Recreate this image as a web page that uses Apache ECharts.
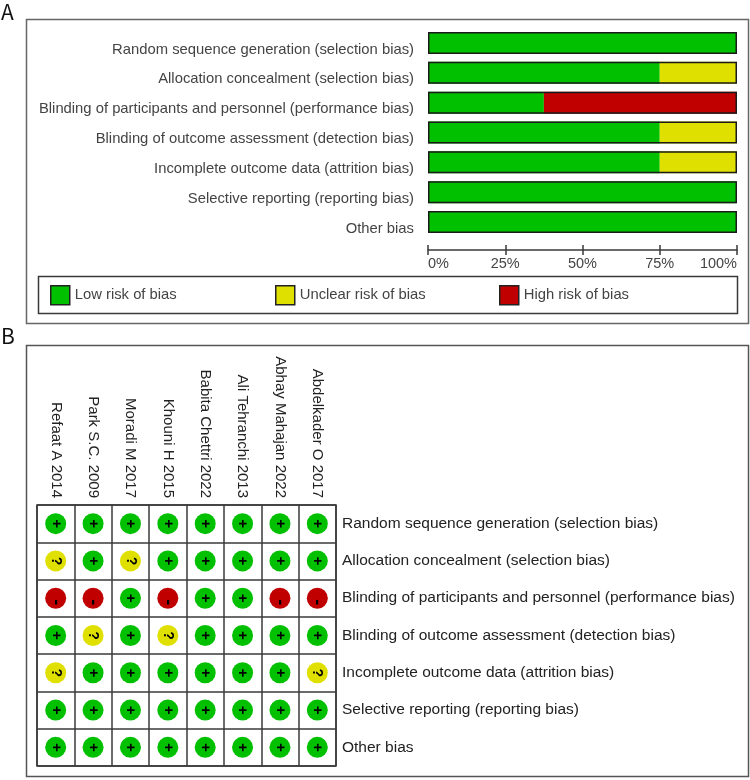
<!DOCTYPE html>
<html>
<head>
<meta charset="utf-8">
<style>html,body{margin:0;padding:0;background:#fff}#c{width:750px;height:780px}</style>
<script src="https://cdn.jsdelivr.net/npm/echarts@6/dist/echarts.min.js"></script>
</head>
<body>
<div id="c"></div>
<script>
// Risk-of-bias domains, shared by the summary bars and the study grid
const domains = [
  'Random sequence generation (selection bias)',
  'Allocation concealment (selection bias)',
  'Blinding of participants and personnel (performance bias)',
  'Blinding of outcome assessment (detection bias)',
  'Incomplete outcome data (attrition bias)',
  'Selective reporting (reporting bias)',
  'Other bias'
];
const studies = [
  'Refaat A 2014', 'Park S.C. 2009', 'Moradi M 2017', 'Khouni H 2015',
  'Babita Chettri 2022', 'Ali Tehranchi 2013', 'Abhay Mahajan 2022', 'Abdelkader O 2017'
];

// Percentage of studies per judgement, one entry per domain
const lowRisk     = [100, 75, 37.5, 75, 75, 100, 100];
const unclearRisk = [0, 25, 0, 25, 25, 0, 0];
const highRisk    = [0, 0, 62.5, 0, 0, 0, 0];
const wholeBar    = [100, 100, 100, 100, 100, 100, 100];
const percentTicks = ['0%', '25%', '50%', '75%', '100%'];

// Judgement per study (columns) and domain (rows)
const judgementRow1 = ['+', '+', '+', '+', '+', '+', '+', '+'];
const judgementRow2 = ['?', '+', '?', '+', '+', '+', '+', '+'];
const judgementRow3 = ['-', '-', '+', '-', '+', '+', '-', '-'];
const judgementRow4 = ['+', '?', '+', '?', '+', '+', '+', '+'];
const judgementRow5 = ['?', '+', '+', '+', '+', '+', '+', '?'];
const judgementRow6 = ['+', '+', '+', '+', '+', '+', '+', '+'];
const judgementRow7 = ['+', '+', '+', '+', '+', '+', '+', '+'];
const judgements = [judgementRow1, judgementRow2, judgementRow3, judgementRow4,
                    judgementRow5, judgementRow6, judgementRow7];

const GREEN = '#00c000', YELLOW = '#e0e000', RED = '#c00000';
const INK = '#444444', RULE = '#3a3a3a';
const FONT = '"Liberation Sans", Arial, sans-serif';

function cellsFor(mark) {
  const out = [];
  judgements.forEach((row, r) => row.forEach((v, c) => {
    if (v === mark) out.push([c, r]);
  }));
  return out;
}

function riskBar(name, data, color) {
  return {
    name, type: 'bar', stack: 'risk', xAxisIndex: 0, yAxisIndex: 0,
    data, barWidth: 22, barGap: '-100%',
    itemStyle: { color, borderColor: '#000', borderWidth: 0 },
    silent: true
  };
}

function judgementDots(mark, color, offset, size) {
  return {
    name: 'judgement ' + mark, type: 'scatter', xAxisIndex: 2, yAxisIndex: 1,
    data: cellsFor(mark), symbol: 'circle', symbolSize: 21,
    itemStyle: { color, opacity: 1 }, silent: true,
    label: {
      show: true, position: 'inside', formatter: mark, rotate: -90,
      offset, color: '#000', fontFamily: FONT, fontWeight: 'bold', fontSize: size
    }
  };
}

function legendEntry(name, left, color) {
  return {
    data: [{ name, icon: 'rect', itemStyle: { color, borderColor: '#222', borderWidth: 1.5 } }],
    left, top: 285, padding: 0, itemWidth: 19, itemHeight: 19, itemGap: 0,
    selectedMode: false,
    textStyle: { color: INK, fontFamily: FONT, fontSize: 14.8, padding: [3, 0, 0, 0] }
  };
}

function frame(x, y, width, height, stroke) {
  return {
    type: 'rect', silent: true, z: 0,
    shape: { x, y, width, height },
    style: { fill: 'none', stroke, lineWidth: 1.5 }
  };
}

const letterStyle = { fontFamily: '"Noto Sans CJK SC", "Noto Sans"', fontWeight: 'normal', fontSize: 21, color: '#111' };

const chart = echarts.init(document.getElementById('c'), null, { renderer: 'canvas' });
chart.setOption({
  animation: false,
  backgroundColor: '#fff',
  title: [
    { text: 'A', left: 1, top: 2, padding: 0, textStyle: letterStyle },
    { text: 'B', left: 1, top: 326, padding: 0, textStyle: letterStyle }
  ],
  legend: [
    legendEntry('Low risk of bias', 50, GREEN),
    legendEntry('Unclear risk of bias', 275, YELLOW),
    legendEntry('High risk of bias', 499, RED)
  ],
  graphic: [
    frame(26.5, 19.5, 722, 304, '#666'),
    frame(38.5, 276.5, 699, 37, RULE),
    frame(26.5, 345.5, 722, 431, '#555')
  ],
  grid: [
    { left: 428, top: 28, width: 309, height: 209 },
    { left: 37, top: 505, width: 299, height: 261, show: true, borderColor: RULE, borderWidth: 1.5, backgroundColor: '#fff' }
  ],
  xAxis: [
    {
      gridIndex: 0, type: 'value', min: 0, max: 100, interval: 25, position: 'bottom', offset: 13,
      splitLine: { show: false },
      axisLine: { show: true, lineStyle: { color: RULE, width: 1.5 } },
      axisTick: { show: true, length: 5, lineStyle: { color: RULE, width: 1.5 } },
      axisLabel: {
        formatter: (v) => percentTicks[v / 25], color: INK, fontFamily: FONT, fontSize: 14.5, margin: 6,
        alignMinLabel: 'left', alignMaxLabel: 'right'
      }
    },
    {
      // Same scale again, only to carry the upper half of each tick
      gridIndex: 0, type: 'value', min: 0, max: 100, interval: 25, position: 'bottom', offset: 13,
      splitLine: { show: false }, axisLabel: { show: false },
      axisLine: { show: false },
      axisTick: { show: true, inside: true, length: 5, lineStyle: { color: RULE, width: 1.5 } }
    },
    {
      gridIndex: 1, type: 'category', data: studies, position: 'top',
      axisLine: { show: false }, axisTick: { show: false },
      splitLine: { show: true, interval: 0, lineStyle: { color: RULE, width: 1.5 } },
      axisLabel: { rotate: 90, interval: 0, margin: 7, color: '#222', fontFamily: FONT, fontSize: 15 }
    }
  ],
  yAxis: [
    {
      gridIndex: 0, type: 'category', data: domains, inverse: true,
      axisLine: { show: false }, axisTick: { show: false },
      axisLabel: { interval: 0, margin: 14, color: INK, fontFamily: FONT, fontSize: 14.8, verticalAlign: 'top', lineHeight: 13 }
    },
    {
      gridIndex: 1, type: 'category', data: domains, inverse: true, position: 'right',
      axisLine: { show: false }, axisTick: { show: false },
      splitLine: { show: true, interval: 0, lineStyle: { color: RULE, width: 1.5 } },
      axisLabel: { interval: 0, margin: 6, color: '#222', fontFamily: FONT, fontSize: 15.5 }
    }
  ],
  series: [
    riskBar('Low risk of bias', lowRisk, GREEN),
    riskBar('Unclear risk of bias', unclearRisk, YELLOW),
    riskBar('High risk of bias', highRisk, RED),
    {
      // Outline around the whole bar, with no rule between segments
      name: 'outline', type: 'bar', stack: 'outline', xAxisIndex: 0, yAxisIndex: 0,
      data: wholeBar, barWidth: 22, barGap: '-100%', z: 5, silent: true,
      itemStyle: { color: 'transparent', borderColor: '#1a1a1a', borderWidth: 1.5 }
    },
    judgementDots('+', GREEN, [0, 0], 15),
    judgementDots('?', YELLOW, [0, 0], 14),
    judgementDots('-', RED, [4, 0], 18)
  ]
});
</script>
</body>
</html>
